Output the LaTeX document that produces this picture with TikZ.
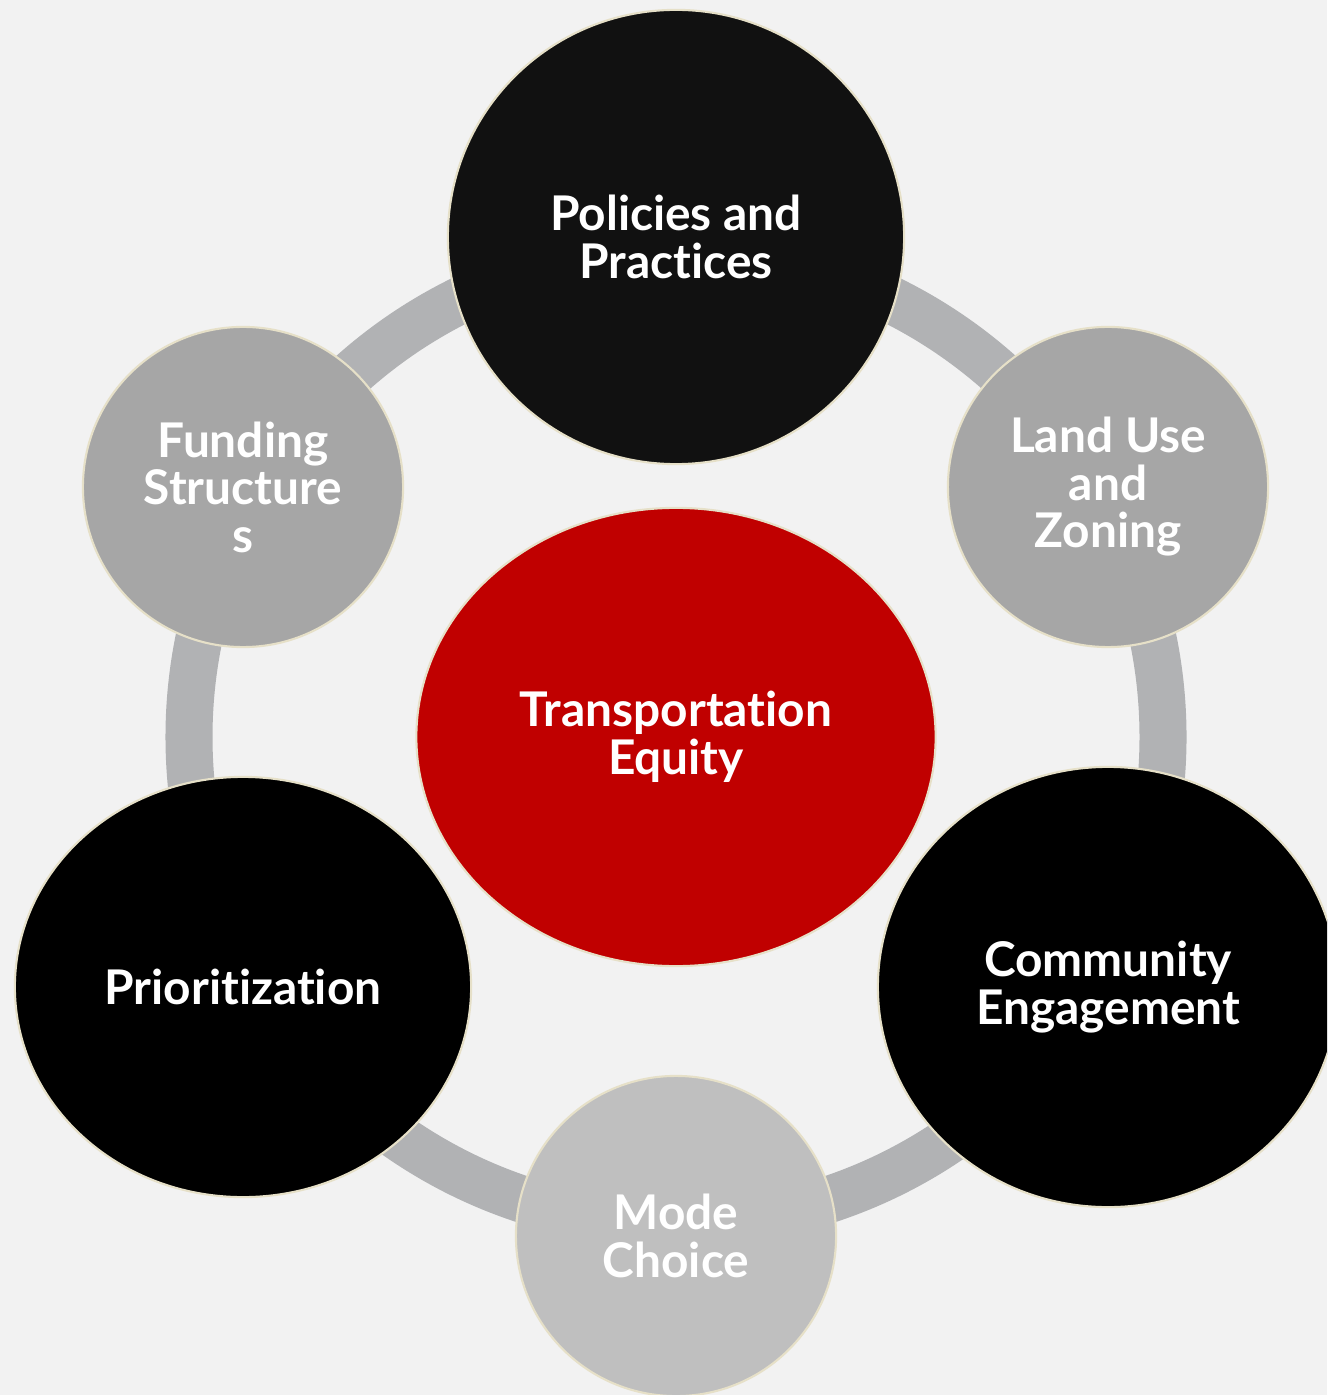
\documentclass[tikz,border=0pt]{standalone}
\usepackage{fontspec}
\setmainfont{Lato}[Ligatures = NoCommon, RawFeature = {-clig;-calt;-dlig}]
\usepackage{xcolor}
\usetikzlibrary{shapes}

\definecolor{bgcol}{HTML}{F2F2F2}
\definecolor{ringcol}{HTML}{B1B2B4}
\definecolor{rimcol}{HTML}{E6E0C8}
\definecolor{midgray}{HTML}{A6A6A6}
\definecolor{lightgray}{HTML}{BFBFBF}
\definecolor{eqred}{HTML}{C00000}
\definecolor{nearblack}{HTML}{111111}

\begin{document}
\begin{tikzpicture}[x=0.01cm, y=-0.01cm]
\tikzstyle{bubble} = [ellipse, draw = rimcol, line width = 0.6pt, inner sep = 0pt,
	text = white, align = center, font = \fontsize{13.6pt}{13.5pt}\selectfont\bfseries]
\tikzstyle{big} = [bubble, minimum width = 4.56cm, minimum height = 4.4cm]
\tikzstyle{small} = [bubble, minimum width = 3.2cm, minimum height = 3.2cm, fill = midgray]
\fill[bgcol] (0,0) rectangle (1327,1395);
\clip (0,0) rectangle (1327,1395);
\coordinate (hub) at (676,737);
\draw[ringcol, line width = 0.47cm] (hub) circle[radius = 487];
\node[bubble, fill = eqred, minimum width = 5.19cm, minimum height = 4.58cm] (eq) at (hub) {Transportation\\Equity};
\node[big, fill = nearblack, minimum height = 4.54cm] (pol) at (676,237) {Policies and\\Practices};
\node[small] (land) at (1108,487) {Land Use\\and\\Zoning};
\node[big, fill = black, minimum width = 4.6cm] (comm) at (1108,987) {Community\\Engagement};
\node[small, fill = lightgray] (mode) at (676,1236) {Mode\\Choice};
\node[big, fill = black, minimum height = 4.2cm] (prio) at (243,987) {Prioritization};
\node[small] (fund) at (243,487) {Funding\\Structure\\s};
\end{tikzpicture}
\end{document}
